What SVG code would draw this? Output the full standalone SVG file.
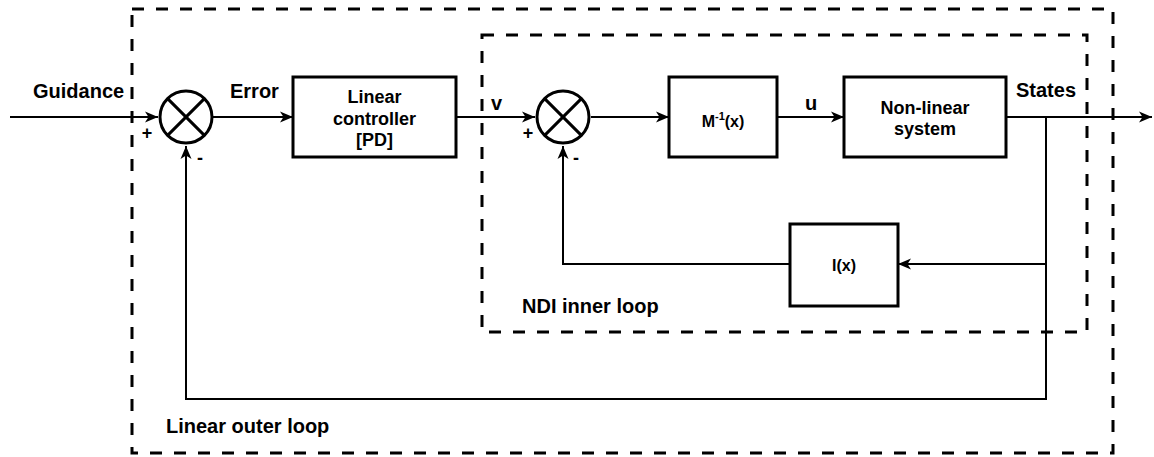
<svg xmlns="http://www.w3.org/2000/svg" width="1154" height="457" viewBox="0 0 1154 457">
<style>
.bg{fill:#ffffff}
.loop{fill:none;stroke:#000;stroke-width:3;stroke-dasharray:12 12}
.box{fill:#fff;stroke:#000;stroke-width:3}
.sum{fill:#fff;stroke:#000;stroke-width:3}
.x{stroke:#000;stroke-width:3}
.wire{fill:none;stroke:#000;stroke-width:2}
.t{font-family:"Liberation Sans",Arial,sans-serif;font-weight:bold;fill:#000}
.lbl{font-size:20px}
.bt{font-size:18px;text-anchor:middle}
.st{font-size:16px;text-anchor:middle}
.sign{font-size:18px;text-anchor:middle}
</style>
<defs>
<marker id="arr" markerUnits="userSpaceOnUse" markerWidth="14" markerHeight="12" refX="13" refY="6" orient="auto">
<path d="M0,0.5 L13,6 L0,11.5 L3.5,6 z" fill="#000"/>
</marker>
</defs>
<rect class="bg" x="0" y="0" width="1154" height="457"/>

<g id="outer-loop">
<rect class="loop" x="132" y="9" width="981" height="444"/>
<text class="t lbl" x="166" y="433">Linear outer loop</text>
</g>
<g id="inner-loop">
<rect class="loop" x="482" y="35" width="605" height="297"/>
<text class="t lbl" x="522" y="313">NDI inner loop</text>
</g>

<g id="connectors">
<line class="wire" x1="10" y1="117" x2="158" y2="117" marker-end="url(#arr)"/>
<line class="wire" x1="213" y1="117" x2="293" y2="117" marker-end="url(#arr)"/>
<line class="wire" x1="456" y1="117" x2="535" y2="117" marker-end="url(#arr)"/>
<line class="wire" x1="591" y1="117" x2="669" y2="117" marker-end="url(#arr)"/>
<line class="wire" x1="777" y1="117" x2="844" y2="117" marker-end="url(#arr)"/>
<line class="wire" x1="1006" y1="117" x2="1152" y2="117" marker-end="url(#arr)"/>
<polyline class="wire" points="1046,117 1046,399 186,399 186,146" marker-end="url(#arr)"/>
<polyline class="wire" points="1046,264 898,264" marker-end="url(#arr)"/>
<polyline class="wire" points="790,264 563,264 563,146" marker-end="url(#arr)"/>
</g>

<g id="label-guidance"><text class="t lbl" x="33" y="98">Guidance</text></g>
<g id="label-error"><text class="t lbl" x="230" y="98">Error</text></g>
<g id="label-v"><text class="t lbl" x="491" y="110">v</text></g>
<g id="label-u"><text class="t lbl" x="805" y="110">u</text></g>
<g id="label-states"><text class="t lbl" x="1016" y="97">States</text></g>

<g id="sum1">
<circle class="sum" cx="186" cy="117" r="26"/>
<line class="x" x1="167.6" y1="98.6" x2="204.4" y2="135.4"/>
<line class="x" x1="204.4" y1="98.6" x2="167.6" y2="135.4"/>
<text class="t sign" x="147" y="139">+</text>
<text class="t sign" x="200" y="164">-</text>
</g>

<g id="sum2">
<circle class="sum" cx="563" cy="117" r="26"/>
<line class="x" x1="544.6" y1="98.6" x2="581.4" y2="135.4"/>
<line class="x" x1="581.4" y1="98.6" x2="544.6" y2="135.4"/>
<text class="t sign" x="528" y="139">+</text>
<text class="t sign" x="576" y="164">-</text>
</g>

<g id="linear-controller">
<rect class="box" x="293" y="77" width="163" height="80"/>
<text class="t bt" x="374.5" y="103">Linear</text>
<text class="t bt" x="374.5" y="125">controller</text>
<text class="t bt" x="374.5" y="146">[PD]</text>
</g>

<g id="m-inverse">
<rect class="box" x="669" y="77" width="108" height="80"/>
<text class="t st" x="723" y="127">M<tspan font-size="11" dy="-7">-1</tspan><tspan dy="7">(x)</tspan></text>
</g>

<g id="nonlinear-system">
<rect class="box" x="844" y="77" width="162" height="80"/>
<text class="t bt" x="925" y="114">Non-linear</text>
<text class="t bt" x="925" y="135">system</text>
</g>

<g id="l-block">
<rect class="box" x="790" y="224" width="108" height="82"/>
<text class="t st" x="844" y="271">I(x)</text>
</g>
</svg>
